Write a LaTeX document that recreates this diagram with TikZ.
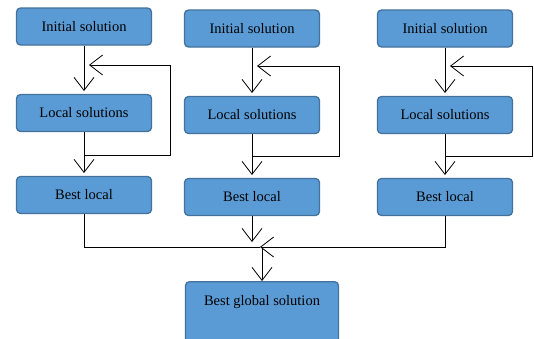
\documentclass[tikz,border=0pt]{standalone}
\usepackage{fontspec}
\setmainfont{Liberation Serif}
\usetikzlibrary{arrows.meta}

\definecolor{boxblue}{HTML}{5B9BD5}
\definecolor{boxedge}{HTML}{41719C}

\tikzset{
    stagebox/.style={draw=boxedge, fill=boxblue, line width=1.3pt, rounded corners=4pt,
        minimum width=135pt, minimum height=37pt, font=\fontsize{14.5}{16}\selectfont},
    flow/.style={-{Straight Barb[length=13pt, width=20pt, line width=0.8pt]}, line width=0.8pt},
    plain/.style={line width=0.8pt}
}

\begin{document}
\begin{tikzpicture}[x=1pt, y=-1pt]
    \useasboundingbox (0,0) rectangle (534,338);

    % three local searches
    \node[stagebox] (init1) at (84,26.5) {Initial solution};
    \node[stagebox] (local1) at (84,113) {Local solutions};
    \node[stagebox] (best1) at (84,195) {Best local};

    \node[stagebox] (init2) at (252,28.5) {Initial solution};
    \node[stagebox] (local2) at (252,115) {Local solutions};
    \node[stagebox] (best2) at (252,197) {Best local};

    \node[stagebox] (init3) at (445,28.5) {Initial solution};
    \node[stagebox] (local3) at (445,115) {Local solutions};
    \node[stagebox] (best3) at (445,197) {Best local};

    % global result
    \node[stagebox, anchor=north, minimum width=153pt, inner ysep=10pt,
        text height=14pt, text depth=40pt] (global) at (262,281) {Best global solution};

    % loop corners
    \coordinate (loopa1) at (84,155);   \coordinate (loopb1) at (170,155);
    \coordinate (loopc1) at (170,65);   \coordinate (loopd1) at (89,65);
    \coordinate (loopa2) at (252,156);  \coordinate (loopb2) at (339,156);
    \coordinate (loopc2) at (339,66);   \coordinate (loopd2) at (257,66);
    \coordinate (loopa3) at (445,156);  \coordinate (loopb3) at (532,156);
    \coordinate (loopc3) at (532,66);   \coordinate (loopd3) at (450,66);

    \draw[flow] (init1) -- (84,91);
    \draw[flow] (local1) -- (84,173);
    \draw[flow] (loopa1) -- (loopb1) -- (loopc1) -- (loopd1);

    \draw[flow] (init2) -- (252,93);
    \draw[flow] (local2) -- (252,175);
    \draw[flow] (loopa2) -- (loopb2) -- (loopc2) -- (loopd2);

    \draw[flow] (init3) -- (445,93);
    \draw[flow] (local3) -- (445,175);
    \draw[flow] (loopa3) -- (loopb3) -- (loopc3) -- (loopd3);

    % merge
    \coordinate (merge) at (260,247);
    \draw[plain] (best1) |- (merge);
    \draw[flow] (best3) |- (merge);
    \draw[flow] (best2.south) -- (252,242);
    \draw[flow] (262,247) -- (global);
\end{tikzpicture}
\end{document}
